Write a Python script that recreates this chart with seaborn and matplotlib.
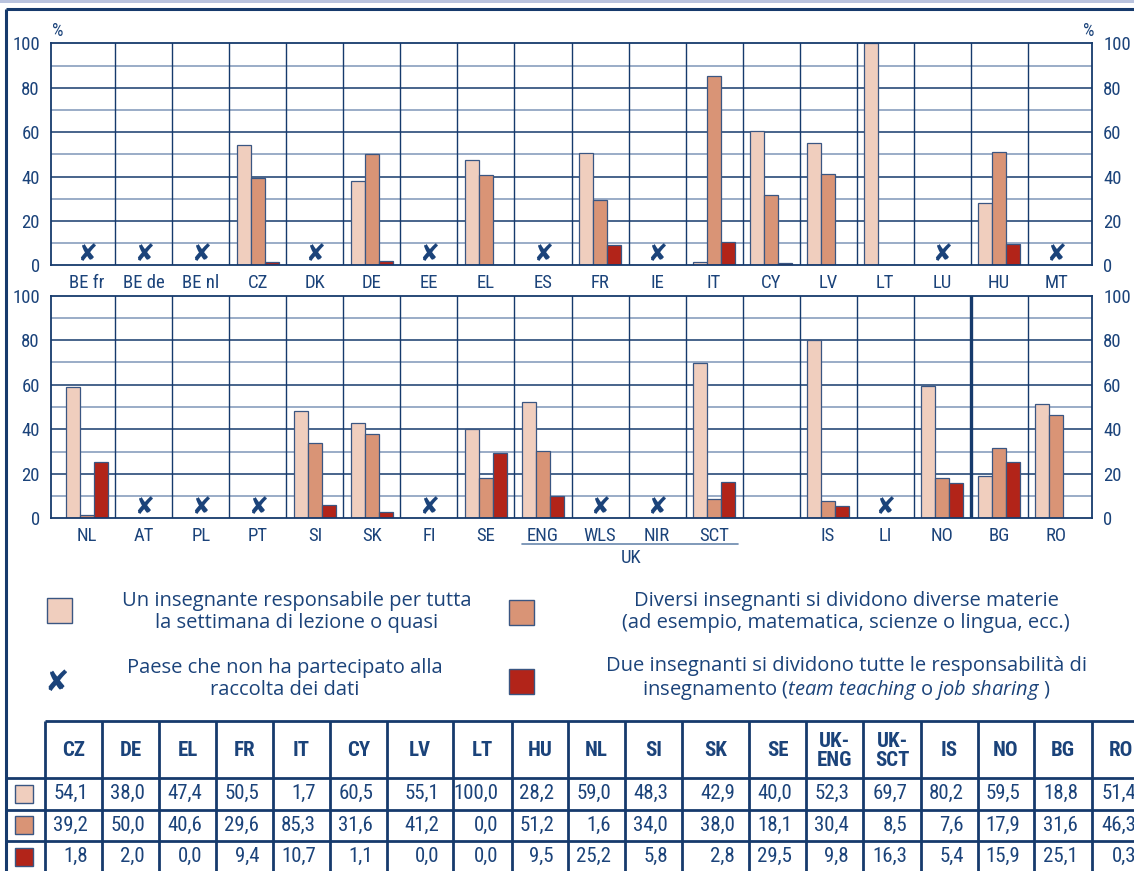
import matplotlib
matplotlib.use("Agg")
import matplotlib.pyplot as plt
import matplotlib.transforms as mtransforms
from matplotlib import font_manager
from matplotlib.patches import Rectangle
import pandas as pd
import seaborn as sns

sns.set_theme(style="white")

# pick fonts that are actually installed
available = {f.name for f in font_manager.fontManager.ttflist}
NARROW = next((n for n in ["Liberation Sans Narrow", "Roboto Condensed", "Open Sans Condensed"]
               if n in available), "DejaVu Sans")
TEXT_FONT = "Open Sans" if "Open Sans" in available else "DejaVu Sans"
plt.rcParams["font.family"] = [TEXT_FONT, "DejaVu Sans"]
plt.rcParams["mathtext.fontset"] = "custom"
plt.rcParams["mathtext.rm"] = TEXT_FONT
plt.rcParams["mathtext.it"] = TEXT_FONT + ":italic"

NAVY = "#1b437a"
LINE = "#163a6c"
GRID_LIGHT = "#7f96b8"
EDGE = "#3a5682"
CROSS = "\u2718"

table_countries = ["CZ", "DE", "EL", "FR", "IT", "CY", "LV", "LT", "HU", "NL",
                   "SI", "SK", "SE", "UK-ENG", "UK-SCT", "IS", "NO", "BG", "RO"]
one_teacher = [54.1, 38.0, 47.4, 50.5, 1.7, 60.5, 55.1, 100.0, 28.2, 59.0,
               48.3, 42.9, 40.0, 52.3, 69.7, 80.2, 59.5, 18.8, 51.4]
several_teachers = [39.2, 50.0, 40.6, 29.6, 85.3, 31.6, 41.2, 0.0, 51.2, 1.6,
                    34.0, 38.0, 18.1, 30.4, 8.5, 7.6, 17.9, 31.6, 46.3]
two_teachers = [1.8, 2.0, 0.0, 9.4, 10.7, 1.1, 0.0, 0.0, 9.5, 25.2,
                5.8, 2.8, 29.5, 9.8, 16.3, 5.4, 15.9, 25.1, 0.3]

series_names = ["one", "several", "two"]
series_colors = ["#f0cebe", "#d99476", "#b22419"]

top_slots = ["BE fr", "BE de", "BE nl", "CZ", "DK", "DE", "EE", "EL", "ES",
             "FR", "IE", "IT", "CY", "LV", "LT", "LU", "HU", "MT"]
bottom_slots = ["NL", "AT", "PL", "PT", "SI", "SK", "FI", "SE", "ENG",
                "WLS", "NIR", "SCT", "", "IS", "LI", "NO", "BG", "RO"]
not_participating = ["BE fr", "BE de", "BE nl", "DK", "EE", "ES", "IE", "LU", "MT",
                     "AT", "PL", "PT", "FI", "WLS", "NIR", "LI"]
chart_to_table = {"ENG": "UK-ENG", "SCT": "UK-SCT"}

legend_texts = [
    "Un insegnante responsabile per tutta\nla settimana di lezione o quasi",
    "Diversi insegnanti si dividono diverse materie\n(ad esempio, matematica, scienze o lingua, ecc.)",
    "Paese che non ha partecipato alla\nraccolta dei dati",
    "Due insegnanti si dividono tutte le responsabilità di\n"
    r"insegnamento ($\mathit{team\ teaching}$ o $\mathit{job\ sharing}$ )",
]
table_headers = ["CZ", "DE", "EL", "FR", "IT", "CY", "LV", "LT", "HU", "NL",
                 "SI", "SK", "SE", "UK-\nENG", "UK-\nSCT", "IS", "NO", "BG", "RO"]

long_df = pd.DataFrame({"country": table_countries, "one": one_teacher,
                        "several": several_teachers, "two": two_teachers}
                       ).melt(id_vars="country", var_name="series", value_name="pct")

W, H = 1134, 871
fig = plt.figure(figsize=(W / 100, H / 100), dpi=100)

# overlay axes in pixel coordinates for frame, legend and table
ov = fig.add_axes([0, 0, 1, 1])
ov.set_xlim(0, W)
ov.set_ylim(H, 0)
ov.axis("off")


def px_axes(x0, y0, x1, y1):
    return fig.add_axes([x0 / W, 1 - y1 / H, (x1 - x0) / W, (y1 - y0) / H])


def draw_panel(ax, slots):
    keys = {chart_to_table.get(s, s): s for s in slots}
    sub = long_df[long_df["country"].isin(keys)].copy()
    sub["slot"] = sub["country"].map(keys)
    sns.barplot(data=sub, x="slot", y="pct", hue="series", order=slots,
                hue_order=series_names, palette=series_colors, saturation=1,
                width=0.75, edgecolor=EDGE, linewidth=0.9, legend=False,
                errorbar=None, ax=ax)
    for v in range(10, 100, 10):
        ax.axhline(v, color=LINE if v % 20 == 0 else GRID_LIGHT, lw=1.1, zorder=0.5)
    for i in range(len(slots) - 1):
        ax.axvline(i + 0.5, color=LINE, lw=1.0, zorder=0.5)
    for i, s in enumerate(slots):
        if s in not_participating:
            ax.text(i, 5.0, CROSS, ha="center", va="center", color=NAVY,
                    fontsize=17, family=["DejaVu Sans"])
    ax.set_xlim(-0.63, len(slots) - 1 + 0.63)
    ax.set_ylim(0, 100)
    ax.set_yticks(range(0, 101, 20))
    ax.set_xticks(range(len(slots)))
    ax.set_xticklabels(slots)
    ax.set_xlabel("")
    ax.set_ylabel("")
    ax.tick_params(axis="y", length=0, pad=8, labelsize=13.5, labelcolor=NAVY,
                   labelleft=True, labelright=True, labelfontfamily=NARROW)
    ax.tick_params(axis="x", length=0, pad=6, labelsize=13.5, labelcolor=NAVY,
                   labelfontfamily=NARROW)
    for side in ["left", "right", "top", "bottom"]:
        ax.spines[side].set_visible(True)
        ax.spines[side].set_color(LINE)
        ax.spines[side].set_linewidth(1.3)
    ax.set_facecolor("none")


ax_top = px_axes(51, 43.3, 1092, 265.5)
draw_panel(ax_top, top_slots)
ax_bot = px_axes(51, 295.7, 1092, 518.3)
draw_panel(ax_bot, bottom_slots)
ax_bot.axvline(15.5, color=LINE, lw=2.4, zorder=3)

# UK bracket under ENG..SCT
trans = mtransforms.blended_transform_factory(ax_bot.transData, ax_bot.transAxes)
ax_bot.plot([7.63, 11.42], [-0.115, -0.115], color="#6a87ad", lw=1.2,
            transform=trans, clip_on=False)
ax_bot.text(9.55, -0.18, "UK", transform=trans, ha="center", va="center",
            color=NAVY, fontsize=13.5, family=[NARROW, "DejaVu Sans"])

# percent signs
ov.text(52, 31, "%", color=NAVY, fontsize=13, ha="left", va="center",
        family=[NARROW, "DejaVu Sans"])
ov.text(1094, 31, "%", color=NAVY, fontsize=13, ha="right", va="center",
        family=[NARROW, "DejaVu Sans"])

# frame
ov.add_patch(Rectangle((0, 0), W, 3.5, color="#b9c3de", lw=0))
ov.plot([5.5, W], [9, 9], color=LINE, lw=2.2, solid_capstyle="butt")
ov.plot([5.5, 5.5], [9, H], color=LINE, lw=2.2, solid_capstyle="butt")

# legend
for (x, y), c in zip([(47, 598), (509, 600), (509, 669)], series_colors):
    ov.add_patch(Rectangle((x, y), 25, 25, facecolor=c, edgecolor=EDGE, lw=1.0))
ov.text(57, 683, CROSS, ha="center", va="center", color=NAVY, fontsize=21,
        family=["DejaVu Sans"])
for (x, y), t in zip([(297, 612), (846, 612), (285, 679), (846, 679)], legend_texts):
    ov.text(x, y, t, ha="center", va="center", multialignment="center",
            color=NAVY, fontsize=14.5, linespacing=1.15)

# table
col_edges = [5, 45, 102, 159, 216, 273, 330, 387, 453, 512, 568, 625, 682,
             749, 806, 863, 921, 978, 1034, 1092, 1150]
row_edges = [721, 778, 809.5, 841, 872.5]
tw = 2.0
ov.plot([45, W], [row_edges[0]] * 2, color=LINE, lw=tw, solid_capstyle="butt")
for ry in row_edges[1:4]:
    ov.plot([5, W], [ry, ry], color=LINE, lw=tw, solid_capstyle="butt")
for cx in col_edges[1:-1]:
    ov.plot([cx, cx], [row_edges[0], H], color=LINE, lw=tw, solid_capstyle="butt")

for j, head in enumerate(table_headers):
    xc = (col_edges[j + 1] + col_edges[j + 2]) / 2
    ov.text(xc, (row_edges[0] + row_edges[1]) / 2 + 1, head, ha="center", va="center",
            color=NAVY, fontsize=15, fontweight="bold", linespacing=1.0,
            family=[NARROW, "DejaVu Sans"])

for r, (vals, c) in enumerate(zip([one_teacher, several_teachers, two_teachers],
                                  series_colors)):
    yc = (row_edges[r + 1] + row_edges[r + 2]) / 2
    ov.add_patch(Rectangle((15, yc - 9), 18, 18, facecolor=c, edgecolor=EDGE, lw=1.0))
    for j, v in enumerate(vals):
        ov.text(col_edges[j + 2] - 14, yc, f"{v:.1f}".replace(".", ","),
                ha="right", va="center", color=NAVY, fontsize=15,
                family=[NARROW, "DejaVu Sans"])

fig.savefig("out.png", dpi=100)
